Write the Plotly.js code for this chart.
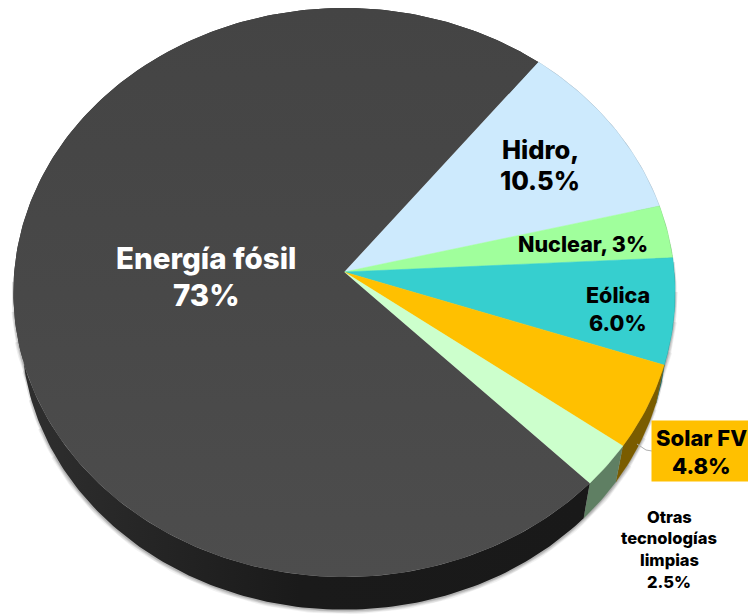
<!DOCTYPE html>
<html>
<head>
<meta charset="utf-8">
<script src="https://cdn.plot.ly/plotly-3.0.1.min.js"></script>
<style>html,body{margin:0;padding:0;background:#fff}#chart{width:748px;height:616px}</style>
</head>
<body>
<div id="chart"></div>
<script>
// Data (clockwise, beginning at the Hidro slice)
const categories = ["Hidro", "Nuclear", "Eólica", "Solar FV", "Otras tecnologías limpias", "Energía fósil"];
const shares = [10.5, 3, 6.0, 4.8, 2.5, 73];
const faceColors = ["#cdeafd", "#a0ff9c", "#36cfcf", "#ffc000", "#ccffcc", "#474747"];
const sideColors = ["#667580", "#50804e", "#1b6868", "#7a5c00", "#5f7f63", "#1a1a1a"];

// Perspective view of the disc
const view = {cx: 344.2, cy: 272, rx: 330.0, ry: 283, tilt: 0.072, startDeg: 38.4, shrink: 0.975, drop: 40.4};

function topPoint(deg) {
  const t = deg * Math.PI / 180, a = Math.sin(t), b = Math.cos(t), w = 1 + view.tilt * b;
  return [view.cx + view.rx * a / w, view.cy - view.ry * b / w];
}
function bottomPoint(deg) {
  const p = topPoint(deg);
  return [view.cx + view.shrink * (p[0] - view.cx), view.cy + view.drop + view.shrink * (p[1] - view.cy)];
}
function arc(fn, from, to) {
  const n = Math.max(2, Math.ceil(Math.abs(to - from))), out = [];
  for (let i = 0; i <= n; i++) out.push(fn(from + (to - from) * i / n));
  return out;
}
function xy(points) { return {x: points.map(p => p[0]), y: points.map(p => p[1])}; }

const total = shares.reduce((a, b) => a + b, 0);
let cursor = view.startDeg;
const spans = shares.map(v => { const s = [cursor, cursor + v / total * 360]; cursor = s[1]; return s; });

const traces = [];

// Soft shadow round the lower outline; the wider layers start later so that it fades in
[[9, 0.05, 22], [7, 0.07, 16], [5, 0.09, 10], [3, 0.12, 4]].forEach(([w, o, inset]) => {
  [arc(topPoint, 84 + inset, 272 - inset), arc(bottomPoint, 100 + inset, 262 - inset)].forEach(pts => {
    traces.push(Object.assign(xy(pts), {type: "scatter", mode: "lines", hoverinfo: "skip",
      line: {color: "rgba(0,0,0," + o + ")", width: w}}));
  });
});

// Rim of each slice
spans.forEach((s, i) => {
  const pts = arc(topPoint, s[0], s[1]).concat(arc(bottomPoint, s[1], s[0]));
  pts.push(pts[0]);
  const tr = Object.assign(xy(pts), {type: "scatter", mode: "lines", fill: "toself", name: categories[i],
    hoverinfo: "skip", line: {color: sideColors[i], width: 0.3}, fillcolor: sideColors[i]});
  if (categories[i] === "Energía fósil") {
    tr.fillgradient = {type: "horizontal", start: 10, stop: 590,
      colorscale: [[0, "#303030"], [0.2, "#272727"], [0.5, "#1a1a1a"], [1, "#191919"]]};
    tr.line.color = "rgba(0,0,0,0)";
    tr.line.width = 0;
  }
  traces.push(tr);
});

// Top face of each slice
spans.forEach((s, i) => {
  const pts = [[view.cx, view.cy]].concat(arc(topPoint, s[0], s[1]));
  pts.push([view.cx, view.cy]);
  const tr = Object.assign(xy(pts), {type: "scatter", mode: "lines", fill: "toself", name: categories[i],
    text: categories[i] + ": " + shares[i] + "%", hoverinfo: "text",
    line: {color: faceColors[i], width: 0.5}, fillcolor: faceColors[i]});
  if (categories[i] === "Energía fósil") {
    tr.fillgradient = {type: "vertical", start: 8, stop: 577,
      colorscale: [[0, "#444444"], [0.5, "#484848"], [1, "#4d4d4d"]]};
    tr.line.color = "rgba(0,0,0,0)";
    tr.line.width = 0;
  }
  traces.push(tr);
});

// Leader line of the Solar FV label
traces.push({type: "scatter", mode: "lines", x: [637, 646, 652], y: [444, 450, 451], hoverinfo: "skip",
  line: {color: "#b0b0b0", width: 1}});

const fam = "Inter, 'Open Sans', sans-serif";
function note(text, x, y, size, color, extra) {
  return Object.assign({text: text, x: x, y: y, xref: "x", yref: "y", xanchor: "center", yanchor: "middle",
    showarrow: false, align: "center", font: {family: fam, size: size, color: color, weight: 800}}, extra || {});
}

const annotations = [
  note("Energía fósil", 206, 258, 29.5, "#ffffff"),
  note("73%", 206, 295, 29.5, "#ffffff"),
  note("Hidro,", 540, 149, 25.5, "#000000"),
  note("10.5%", 540, 180, 25.5, "#000000"),
  note("Nuclear, 3%", 583, 244, 21.5, "#000000"),
  note("Eólica", 618, 295, 21.5, "#000000"),
  note("6.0%", 618, 323, 21.5, "#000000"),
  note("", 700, 451, 10, "#000000", {width: 96, height: 60, bgcolor: "#ffc000", borderpad: 0}),
  note("Solar FV", 701, 438, 22, "#000000"),
  note("4.8%", 701, 466, 22, "#000000"),
  note("Otras", 669, 517, 16.5, "#000000"),
  note("tecnologías", 669, 538, 16.5, "#000000"),
  note("limpias", 669, 560, 16.5, "#000000"),
  note("2.5%", 669, 582, 16.5, "#000000")
];

Plotly.newPlot("chart", traces, {
  width: 748, height: 616,
  margin: {l: 0, r: 0, t: 0, b: 0},
  paper_bgcolor: "#ffffff", plot_bgcolor: "#ffffff",
  showlegend: false,
  xaxis: {range: [0, 748], visible: false, fixedrange: true},
  yaxis: {range: [616, 0], visible: false, fixedrange: true},
  annotations: annotations
}, {displayModeBar: false});
</script>
</body>
</html>
